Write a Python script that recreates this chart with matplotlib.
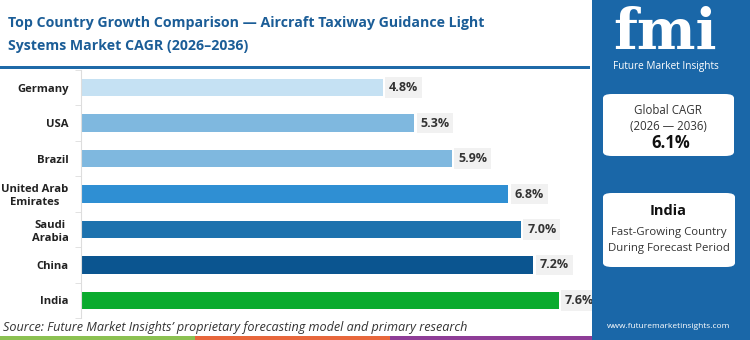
import matplotlib
matplotlib.use("Agg")
import matplotlib.pyplot as plt
from matplotlib.patches import Rectangle, FancyBboxPatch
from matplotlib.lines import Line2D

plt.rcParams['font.family'] = ['Open Sans', 'DejaVu Sans']

# data
countries = ["Germany", "USA", "Brazil", "United Arab\nEmirates", "Saudi\nArabia", "China", "India"]
cagr = [4.8, 5.3, 5.9, 6.8, 7.0, 7.2, 7.6]
bar_colors = ["#c5e1f3", "#7fb8df", "#7fb8df", "#2f8fd3", "#1d72ae", "#0b5590", "#0aab2e"]
title_lines = ["Top Country Growth Comparison \u2014 Aircraft Taxiway Guidance Light",
               "Systems Market CAGR (2026\u20132036)"]
source = "Source: Future Market Insights\u2019 proprietary forecasting model and primary research"
global_cagr = "6.1%"
top_country = "India"

W, H = 750, 340
blue = "#1a67a8"
title_blue = "#1b5d97"


def px(x, y):
    """pixel (from top left) to figure fraction"""
    return x / W, 1 - y / H


fig = plt.figure(figsize=(W / 100, H / 100), dpi=100)
fig.patch.set_facecolor("white")

# title
for line, yy in zip(title_lines, [23, 46]):
    fig.text(*px(8, yy), line, fontsize=10.2, fontweight="bold", color=title_blue,
             va="center", ha="left")
# underline
fig.add_artist(Rectangle(px(0, 69), 590 / W, 3 / H, transform=fig.transFigure,
                         color="#1f6aa8", lw=0))

# bar axes
ax = fig.add_axes([81 / W, 1 - 318 / H, 509 / W, 248 / H])
ypos = list(range(len(countries)))
ax.barh(ypos, cagr, height=0.49, color=bar_colors)
ax.set_xlim(0, 8.1)
ax.set_ylim(len(countries) - 0.5, -0.5)
ax.set_yticks(ypos)
ax.set_yticklabels(countries, fontsize=8.1, fontweight="bold", color="#222222",
                   multialignment="center")
ax.tick_params(axis="y", which="major", length=0, pad=9)
ax.set_yticks([i + 0.5 for i in range(-1, len(countries))], minor=True)
ax.tick_params(axis="y", which="minor", length=4, color="#dddddd")
ax.set_xticks([])
for s in ["top", "right", "bottom"]:
    ax.spines[s].set_visible(False)
ax.spines["left"].set_color("#dddddd")

for y, v in zip(ypos, cagr):
    ax.text(v + 0.1, y, f"{v:.1f}%", va="center", ha="left", fontsize=9,
            fontweight="bold", color="#333333",
            bbox=dict(boxstyle="square,pad=0.3", fc="#f1f1f1", ec="none"))

# source
fig.text(*px(3, 327), source, fontsize=9.1, style="italic", color="#333333",
         va="center", ha="left")

# bottom strip
for x0, x1, c in [(0, 195, "#8cc152"), (195, 390, "#e8673c"), (390, 592, "#8e3d97")]:
    fig.add_artist(Rectangle(px(x0, 340), (x1 - x0) / W, 4 / H,
                             transform=fig.transFigure, color=c, lw=0))

# right panel
fig.add_artist(Rectangle(px(592, 340), (W - 592) / W, 1, transform=fig.transFigure,
                         color=blue, lw=0))

# logo
fig.text(*px(665, 33), "fmi", fontsize=40, fontweight="bold", color="white",
         ha="center", va="center", family="DejaVu Serif")
for yy in range(14, 52, 4):
    fig.add_artist(Line2D([615 / W, 716 / W], [1 - yy / H] * 2, transform=fig.transFigure,
                          color=blue, lw=0.8))
fig.text(*px(666, 66), "Future Market Insights", fontsize=7.2, color="white",
         ha="center", va="center")

# box 1
b1 = FancyBboxPatch(px(603, 156), 131 / W, 62 / H, transform=fig.transFigure,
                    boxstyle="round,pad=0,rounding_size=0.012", fc="white", ec="none")
fig.add_artist(b1)
fig.text(*px(668, 111), "Global CAGR", fontsize=8.3, color="#333333", ha="center", va="center")
fig.text(*px(668, 127), "(2026 \u2014 2036)", fontsize=8.3, color="#333333", ha="center", va="center")
fig.text(*px(671, 143), global_cagr, fontsize=12, fontweight="bold", color="#111111",
         ha="center", va="center")

# box 2
b2 = FancyBboxPatch(px(603, 267), 132 / W, 74 / H, transform=fig.transFigure,
                    boxstyle="round,pad=0,rounding_size=0.012", fc="white", ec="none")
fig.add_artist(b2)
fig.text(*px(668, 211), top_country, fontsize=10.5, fontweight="bold", color="#111111",
         ha="center", va="center")
fig.text(*px(669, 233), "Fast-Growing Country", fontsize=8.2, color="#333333", ha="center", va="center")
fig.text(*px(669, 248), "During Forecast Period", fontsize=8.2, color="#333333", ha="center", va="center")

fig.text(*px(669, 327), "www.futuremarketinsights.com", fontsize=6, color="white",
         ha="center", va="center")

fig.savefig("out.png", dpi=100)
